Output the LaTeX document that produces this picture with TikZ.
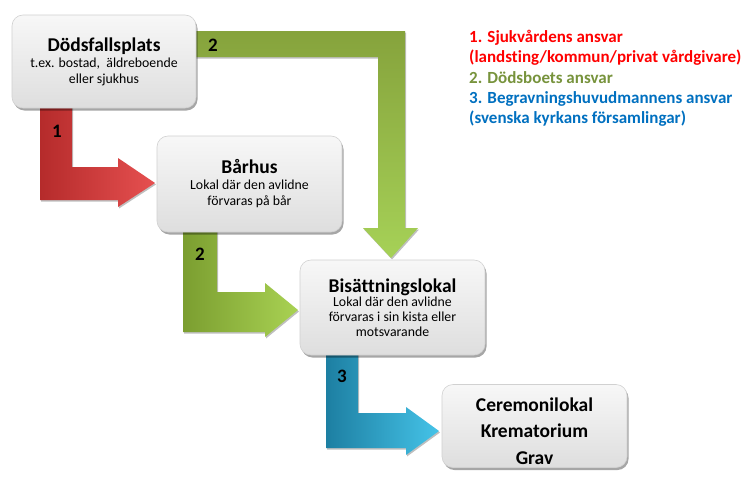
\documentclass[tikz,border=0pt]{standalone}
\usepackage{fontspec}
\setmainfont{Carlito}[Ligatures=NoCommon]
\usetikzlibrary{shadows,calc}
\definecolor{legred}{HTML}{FF0000}
\definecolor{leggreen}{HTML}{77933C}
\definecolor{legblue}{HTML}{0070C0}
\definecolor{gtop}{HTML}{86A33C}
\definecolor{gbot}{HTML}{A6D157}
\definecolor{rl}{HTML}{B52B2B}
\definecolor{rr}{HTML}{E65050}
\definecolor{gl}{HTML}{7B9E30}
\definecolor{gr}{HTML}{A9D253}
\definecolor{bl}{HTML}{1D7FA2}
\definecolor{br}{HTML}{45C3E8}
\tikzset{
  box/.style={draw=black!18, line width=0.6pt, rounded corners=11pt, top color=white!97!black, bottom color=black!13,
    drop shadow={shadow xshift=1.5pt, shadow yshift=-2.5pt, opacity=0.35, fill=black},
    align=center, inner sep=0pt},
  arr/.style={draw=none, drop shadow={shadow xshift=1pt, shadow yshift=-1.5pt, opacity=0.25, fill=black}},
  num/.style={font=\fontsize{19}{22}\selectfont\bfseries, inner sep=0pt},
}
\begin{document}
\begin{tikzpicture}[x=1pt,y=1pt]
\useasboundingbox (0,0) rectangle (744,-477);
\fill[white] (0,0) rectangle (744,-477);
% arrows (drawn below the boxes)
\path[arr, top color=gtop, bottom color=gbot]
  (190,-31) -- (405,-31) -- (405,-228) -- (418,-228) -- (391,-258) -- (363,-228) -- (378,-228) -- (378,-57) -- (190,-57) -- cycle;
\path[arr, left color=rl, right color=rr]
  (40,-100) -- (72,-100) -- (72,-167) -- (118,-167) -- (118,-158) -- (155,-183) -- (118,-207) -- (118,-200) -- (40,-200) -- cycle;
\path[arr, left color=gl, right color=gr]
  (183,-225) -- (217,-225) -- (217,-292) -- (265,-292) -- (265,-283) -- (298,-310) -- (265,-337) -- (265,-332) -- (183,-332) -- cycle;
\path[arr, left color=bl, right color=br]
  (326,-350) -- (358,-350) -- (358,-413) -- (406,-413) -- (406,-407) -- (439,-431) -- (406,-455) -- (406,-448) -- (326,-448) -- cycle;
% boxes
\node[box, minimum width=184pt, minimum height=93pt, font=\fontsize{13.8}{17}\selectfont] (d) at (104,-61.5)
  {\textbf{\fontsize{19.5}{21}\selectfont Dödsfallsplats}\\[-1pt]
   t.ex. bostad,\ \ äldreboende\\[-1pt]
   eller sjukhus};
\node[box, minimum width=185pt, minimum height=96pt, font=\fontsize{13.8}{17}\selectfont] (b) at (249.5,-184)
  {\textbf{\fontsize{19.5}{21}\selectfont Bårhus}\\[-1pt]
   Lokal där den avlidne\\[-1pt]
   förvaras på bår};
\node[box, minimum width=185pt, minimum height=95pt, font=\fontsize{13.8}{15}\selectfont] (s) at (392.5,-307.5)
  {\textbf{\fontsize{19.5}{21}\selectfont Bisättningslokal}\\[-1pt]
   Lokal där den avlidne\\
   förvaras i sin kista eller\\
   motsvarande};
\node[box, minimum width=185pt, minimum height=83pt, font=\fontsize{19.5}{26.5}\selectfont\bfseries] (c) at (534.5,-426)
  {\rule{0pt}{24pt}Ceremonilokal\\ Krematorium\\ Grav};
% numbers
\node[num] (n2a) at (213,-45) {2};
\node[num] (n1) at (57,-131) {1};
\node[num] (n2b) at (200,-254) {2};
\node[num] (n3) at (342,-376) {3};
% legend
\node[anchor=north west, align=left, inner sep=0pt, font=\fontsize{17}{20.3}\selectfont\bfseries] (leg) at (469,-30)
  {\textcolor{legred}{1. Sjukvårdens ansvar}\\
   \textcolor{legred}{(landsting/kommun/privat vårdgivare)}\\
   \textcolor{leggreen}{2. Dödsboets ansvar}\\
   \textcolor{legblue}{3. Begravningshuvudmannens ansvar}\\
   \textcolor{legblue}{(svenska kyrkans församlingar)}};
\end{tikzpicture}
\end{document}
